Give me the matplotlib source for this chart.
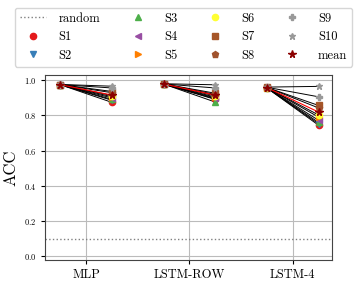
import numpy as np
import matplotlib
matplotlib.use("Agg")
import matplotlib.pyplot as plt

plt.rcParams["font.family"] = "serif"
plt.rcParams["font.serif"] = ["cmr10", "DejaVu Serif"]
plt.rcParams["mathtext.fontset"] = "cm"
plt.rcParams["axes.formatter.use_mathtext"] = True

models = ["MLP", "LSTM-ROW", "LSTM-4"]
subjects = ["S1", "S2", "S3", "S4", "S5", "S6", "S7", "S8", "S9", "S10"]

# accuracy at left (train) and right (test) end of each model
acc_left = {
    "MLP":      [0.973, 0.973, 0.973, 0.973, 0.973, 0.973, 0.974, 0.974, 0.974, 0.975],
    "LSTM-ROW": [0.977, 0.977, 0.977, 0.977, 0.977, 0.978, 0.978, 0.978, 0.978, 0.979],
    "LSTM-4":   [0.955, 0.955, 0.956, 0.956, 0.957, 0.957, 0.958, 0.958, 0.959, 0.960],
}
acc_right = {
    "MLP":      [0.873, 0.885, 0.890, 0.898, 0.905, 0.912, 0.935, 0.928, 0.955, 0.965],
    "LSTM-ROW": [0.890, 0.893, 0.875, 0.898, 0.903, 0.910, 0.925, 0.918, 0.955, 0.973],
    "LSTM-4":   [0.744, 0.752, 0.760, 0.772, 0.790, 0.802, 0.856, 0.842, 0.905, 0.964],
}
random_acc = 0.1

colors = ["#e41a1c", "#377eb8", "#4daf4a", "#984ea3", "#ff7f00",
          "#ffff33", "#a65628", "#a0522d", "#999999", "#999999"]
markers = ["o", "v", "^", "<", ">", "o", "s", "p", "P", "*"]
mean_color = "#8b0000"

fig = plt.figure(figsize=(3.6, 2.81), dpi=100)
ax = fig.add_axes([0.125, 0.075, 0.797, 0.659])

ax.axhline(random_acc, color="gray", ls=":", lw=1.0, label="random")

for i, m in enumerate(models):
    xs = [i - 0.25, i + 0.25]
    for j, s in enumerate(subjects):
        ax.plot(xs, [acc_left[m][j], acc_right[m][j]], color="black", lw=0.7, zorder=2)
    mean_l = np.mean(acc_left[m])
    mean_r = np.mean(acc_right[m])
    ax.plot(xs, [mean_l, mean_r], color="red", lw=0.8, zorder=3)

for j, s in enumerate(subjects):
    for i, m in enumerate(models):
        ax.plot([i - 0.25, i + 0.25], [acc_left[m][j], acc_right[m][j]], ls="none",
                marker=markers[j], color=colors[j], ms=4.5,
                label=s if i == 0 else None, zorder=4)

for i, m in enumerate(models):
    ax.plot([i - 0.25, i + 0.25], [np.mean(acc_left[m]), np.mean(acc_right[m])],
            ls="none", marker="*", color=mean_color, ms=5.5,
            label="mean" if i == 0 else None, zorder=5)

ax.set_xticks(range(len(models)))
ax.set_xticklabels(models, fontsize=9)
ax.set_xlim(-0.4, 2.38)
ax.set_ylim(-0.02, 1.03)
ax.set_yticks([0.0, 0.2, 0.4, 0.6, 0.8, 1.0])
ax.tick_params(axis="y", labelsize=6, length=3)
ax.tick_params(axis="x", length=3)
ax.set_ylabel("ACC", fontsize=12)
ax.grid(True, color="#bbbbbb", lw=0.8)
ax.set_axisbelow(True)
for sp in ax.spines.values():
    sp.set_color("#444444")

fig.legend(loc="upper center", bbox_to_anchor=(0.51, 0.995), ncol=4,
           fontsize=9, frameon=True, handlelength=2.1, handletextpad=1.0,
           columnspacing=2.0, labelspacing=0.5, borderpad=0.4, fancybox=True,
           edgecolor="#cccccc")

fig.savefig("out.png", dpi=100)
